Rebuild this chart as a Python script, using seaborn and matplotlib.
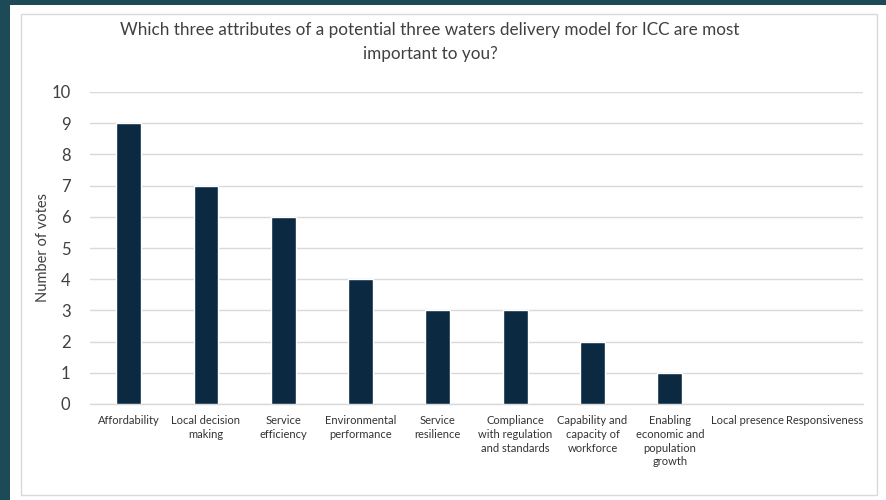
import matplotlib
matplotlib.use("Agg")
import matplotlib.pyplot as plt
import matplotlib.patches as patches
import seaborn as sns
import pandas as pd

categories = [
    "Affordability",
    "Local decision\nmaking",
    "Service\nefficiency",
    "Environmental\nperformance",
    "Service\nresilience",
    "Compliance\nwith regulation\nand standards",
    "Capability and\ncapacity of\nworkforce",
    "Enabling\neconomic and\npopulation\ngrowth",
    "Local presence",
    "Responsiveness",
]
votes = [9, 7, 6, 4, 3, 3, 2, 1, 0, 0]
y_ticks = list(range(0, 11))

title = ("Which three attributes of a potential three waters delivery model for ICC are most\n"
         "important to you?")
y_label = "Number of votes"

sns.set_theme(style="white")
plt.rcParams["font.family"] = ["Lato", "DejaVu Sans"]

W, H = 886, 500
fig = plt.figure(figsize=(W / 100, H / 100), dpi=100)
fig.patch.set_facecolor("#1c4b57")

# white slide panel and the chart's thin frame
fig.add_artist(patches.Rectangle((10 / W, 0), 1, 1 - 5 / H, transform=fig.transFigure,
                                 facecolor="white", edgecolor="none", zorder=0))
fig.add_artist(patches.Rectangle((21 / W, 5 / H), (877 - 21) / W, (486 - 5) / H,
                                 transform=fig.transFigure, facecolor="none",
                                 edgecolor="#d9d9d9", linewidth=1, zorder=1))

ax = fig.add_axes([90 / W, 1 - 404 / H, (863 - 90) / W, (404 - 92) / H])
ax.set_facecolor("none")

df = pd.DataFrame({"attribute": categories, "votes": votes})
sns.barplot(data=df, x="attribute", y="votes", color="#0b2a42", width=0.32,
            saturation=1, ax=ax, zorder=3)

ax.set_ylim(0, 10)
ax.set_yticks(y_ticks)
ax.yaxis.grid(True, color="#d9d9d9", linewidth=1)
ax.set_axisbelow(True)
for s in ["top", "right", "left"]:
    ax.spines[s].set_visible(False)
ax.spines["bottom"].set_color("#d9d9d9")
ax.spines["bottom"].set_linewidth(1)
ax.tick_params(axis="both", length=0)
ax.tick_params(axis="y", labelsize=12, colors="#404040", pad=14)
ax.tick_params(axis="x", labelsize=8, colors="#333333", pad=8)
for lbl in ax.get_xticklabels():
    lbl.set_linespacing(1.3)
ax.set_xlabel("")
ax.set_ylabel(y_label, fontsize=10.5, color="#404040")
ax.yaxis.set_label_coords(-0.052, 0.5)

fig.text(430 / W, 1 - 22 / H, title, ha="center", va="top", fontsize=12.3,
         color="#404040", linespacing=1.65)

fig.savefig("out.png", dpi=100, facecolor=fig.get_facecolor())
